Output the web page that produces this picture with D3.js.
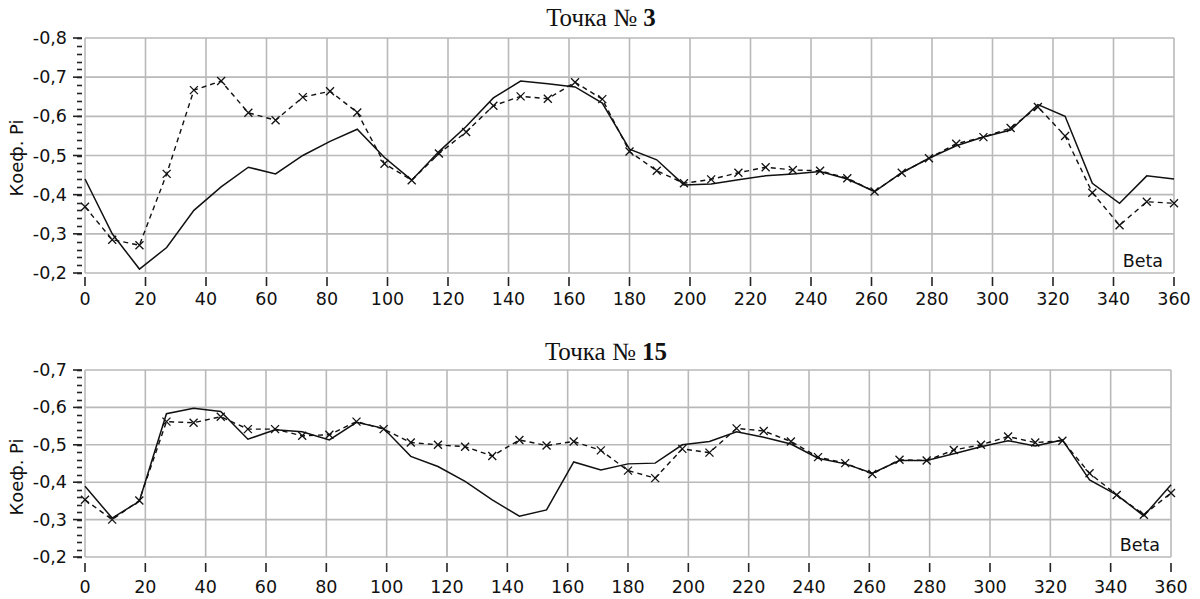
<!DOCTYPE html>
<html>
<head>
<meta charset="utf-8">
<script src="https://cdn.jsdelivr.net/npm/d3@7"></script>
<style>
  html, body { margin: 0; padding: 0; background: #ffffff; }
  svg { display: block; }
</style>
</head>
<body>
<svg id="chart" width="1200" height="599"></svg>
<script>
// ---------- DATA ----------
const beta = [0, 9, 18, 27, 36, 45, 54, 63, 72, 81, 90, 99, 108, 117, 126, 135, 144, 153, 162, 171,
  180, 189, 198, 207, 216, 225, 234, 243, 252, 261, 270, 279, 288, 297, 306, 315, 324, 333, 342, 351, 360];

const xTicks = [0, 20, 40, 60, 80, 100, 120, 140, 160, 180, 200, 220, 240, 260, 280, 300, 320, 340, 360];

// Point 3
const p3Solid = [-0.44, -0.30, -0.21, -0.265, -0.36, -0.42, -0.47, -0.453, -0.50, -0.536, -0.567, -0.495,
  -0.437, -0.51, -0.574, -0.647, -0.69, -0.683, -0.675, -0.634, -0.516, -0.489, -0.425, -0.427, -0.438,
  -0.448, -0.453, -0.459, -0.44, -0.408, -0.456, -0.493, -0.525, -0.547, -0.565, -0.63, -0.60, -0.429,
  -0.378, -0.448, -0.44];
const p3Dashed = [-0.369, -0.285, -0.271, -0.453, -0.667, -0.69, -0.609, -0.59, -0.649, -0.664, -0.61, -0.479,
  -0.437, -0.505, -0.56, -0.627, -0.651, -0.645, -0.687, -0.644, -0.51, -0.461, -0.429, -0.439, -0.456,
  -0.47, -0.463, -0.461, -0.442, -0.408, -0.456, -0.493, -0.53, -0.547, -0.57, -0.624, -0.55, -0.405,
  -0.322, -0.382, -0.378];
const p3YTicks = [-0.2, -0.3, -0.4, -0.5, -0.6, -0.7, -0.8];

// Point 15
const p15Solid = [-0.389, -0.304, -0.349, -0.583, -0.598, -0.589, -0.515, -0.54, -0.535, -0.513, -0.56, -0.544,
  -0.469, -0.442, -0.402, -0.353, -0.309, -0.326, -0.454, -0.433, -0.449, -0.451, -0.50, -0.509, -0.535,
  -0.52, -0.502, -0.464, -0.449, -0.424, -0.458, -0.458, -0.476, -0.495, -0.511, -0.497, -0.513, -0.406,
  -0.366, -0.31, -0.393];
const p15Dashed = [-0.353, -0.30, -0.351, -0.562, -0.559, -0.575, -0.542, -0.542, -0.524, -0.527, -0.562, -0.542,
  -0.506, -0.50, -0.495, -0.47, -0.513, -0.498, -0.509, -0.485, -0.431, -0.411, -0.489, -0.479, -0.544,
  -0.537, -0.509, -0.467, -0.451, -0.422, -0.46, -0.458, -0.486, -0.50, -0.522, -0.506, -0.511, -0.424,
  -0.366, -0.313, -0.371];
const p15YTicks = [-0.2, -0.3, -0.4, -0.5, -0.6, -0.7];

const titleTexts = ["Точка № ", "Точка № "];
const titleNumbers = ["3", "15"];
const yLabel = "Коеф. Pi";
const xLabel = "Beta";

// ---------- DRAWING ----------
const svg = d3.select("#chart");
const gridColor = "#b9b9b9";
const sansFont = "'DejaVu Sans', Verdana, sans-serif";

function fmt(v) { return v.toFixed(1).replace(".", ","); }

function drawPanel(opt) {
  const g = svg.append("g");
  const x = d3.scaleLinear().domain([0, 360]).range([opt.left, opt.right]);
  const y = d3.scaleLinear().domain([opt.yTicks[0], opt.yTicks[opt.yTicks.length - 1]])
    .range([opt.bottom, opt.top]);

  g.append("rect").attr("x", opt.left).attr("y", opt.top)
    .attr("width", opt.right - opt.left).attr("height", opt.bottom - opt.top)
    .attr("fill", "#fff");

  // grid
  g.append("g").selectAll("line").data(xTicks).join("line")
    .attr("x1", d => x(d)).attr("x2", d => x(d))
    .attr("y1", opt.top).attr("y2", opt.bottom)
    .attr("stroke", gridColor).attr("stroke-width", 1.6);
  g.append("g").selectAll("line").data(opt.yTicks).join("line")
    .attr("x1", opt.left).attr("x2", opt.right)
    .attr("y1", d => y(d)).attr("y2", d => y(d))
    .attr("stroke", gridColor).attr("stroke-width", 1.6);

  // y axis ticks (major + minor every 0.02)
  const yMin = opt.yTicks[opt.yTicks.length - 1], yMax = opt.yTicks[0];
  const minor = d3.range(Math.round(yMin * 50), Math.round(yMax * 50) + 1).map(k => k / 50);
  g.append("g").selectAll("line").data(minor).join("line")
    .attr("x1", opt.left - 8).attr("x2", opt.left - 3)
    .attr("y1", d => Math.round(y(d)) + 0.5).attr("y2", d => Math.round(y(d)) + 0.5)
    .attr("stroke", "#222").attr("stroke-width", 1.6);
  g.append("g").selectAll("line").data(opt.yTicks).join("line")
    .attr("x1", opt.left - 12).attr("x2", opt.left - 3)
    .attr("y1", d => y(d)).attr("y2", d => y(d))
    .attr("stroke", "#222").attr("stroke-width", 1.6);
  g.append("g").selectAll("text").data(opt.yTicks).join("text")
    .attr("x", opt.left - 18).attr("y", d => y(d) + 6)
    .attr("text-anchor", "end")
    .attr("font-family", sansFont).attr("font-size", 17.5).attr("fill", "#111")
    .text(d => fmt(d));

  // x axis ticks
  g.append("g").selectAll("line").data(xTicks).join("line")
    .attr("x1", d => x(d)).attr("x2", d => x(d))
    .attr("y1", opt.bottom + opt.tickOff).attr("y2", opt.bottom + opt.tickOff + 9)
    .attr("stroke", "#222").attr("stroke-width", 1.6);
  g.append("g").selectAll("text").data(xTicks).join("text")
    .attr("x", d => x(d)).attr("y", opt.labelBase)
    .attr("text-anchor", "middle")
    .attr("font-family", sansFont).attr("font-size", 17.5).attr("fill", "#111")
    .text(d => d);

  // title
  const t = g.append("text").attr("x", opt.titleX).attr("y", opt.titleY)
    .attr("text-anchor", "middle")
    .attr("font-family", "'Liberation Serif', 'Times New Roman', serif")
    .attr("font-size", 25).attr("fill", "#111");
  t.append("tspan").text(opt.title);
  t.append("tspan").attr("font-weight", "bold").text(opt.num);

  // y label
  g.append("text")
    .attr("transform", `translate(${23},${opt.yLabelY}) rotate(-90)`)
    .attr("text-anchor", "middle")
    .attr("font-family", sansFont).attr("font-size", 18).attr("fill", "#111")
    .text(yLabel);

  // x label inside plot
  g.append("text").attr("x", opt.right - 11).attr("y", opt.bottom - 6)
    .attr("text-anchor", "end")
    .attr("font-family", sansFont).attr("font-size", 17.5).attr("fill", "#111")
    .text(xLabel);

  // lines
  const line = d3.line().x((d, i) => x(beta[i])).y(d => y(d));
  g.append("path").datum(opt.dashed).attr("d", line)
    .attr("fill", "none").attr("stroke", "#111").attr("stroke-width", 1.4)
    .attr("stroke-dasharray", "5,4");
  g.append("path").datum(opt.solid).attr("d", line)
    .attr("fill", "none").attr("stroke", "#111").attr("stroke-width", 1.5);

  // x markers on dashed series
  const s = 4;
  g.append("g").selectAll("path").data(opt.dashed).join("path")
    .attr("d", (d, i) => {
      const cx = x(beta[i]), cy = y(d);
      return `M${cx - s},${cy - s}L${cx + s},${cy + s}M${cx - s},${cy + s}L${cx + s},${cy - s}`;
    })
    .attr("stroke", "#111").attr("stroke-width", 1.3).attr("fill", "none");
}

drawPanel({
  left: 85, right: 1174, top: 38, bottom: 273,
  yTicks: p3YTicks, solid: p3Solid, dashed: p3Dashed,
  tickOff: 4, labelBase: 305,
  title: titleTexts[0], num: titleNumbers[0], titleX: 601, titleY: 26,
  yLabelY: 158
});

drawPanel({
  left: 85, right: 1171, top: 370, bottom: 557,
  yTicks: p15YTicks, solid: p15Solid, dashed: p15Dashed,
  tickOff: 6, labelBase: 593,
  title: titleTexts[1], num: titleNumbers[1], titleX: 606, titleY: 360,
  yLabelY: 477
});
</script>
</body>
</html>
